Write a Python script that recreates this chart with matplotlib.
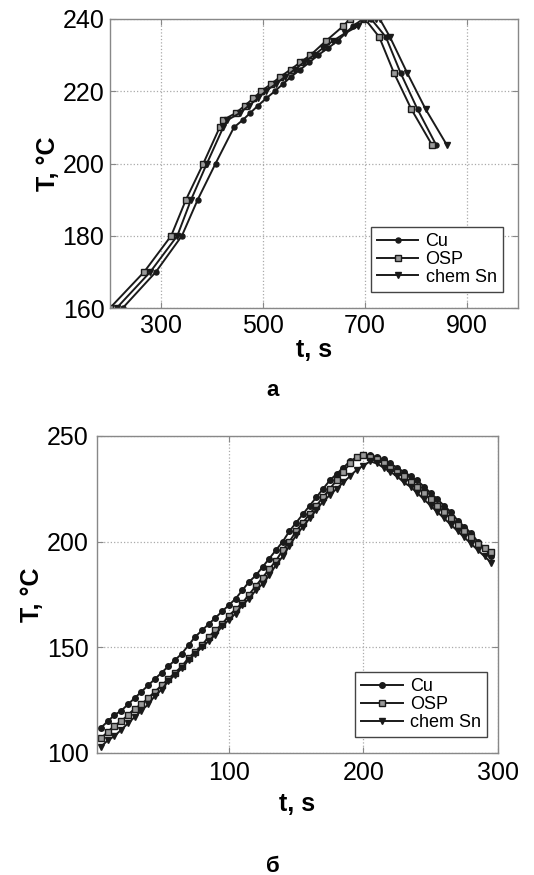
import matplotlib.pyplot as plt

plt.rcParams['font.family'] = ['Liberation Sans', 'DejaVu Sans']

# --- panel a: reflow profile, long cycle ---
t_cu_a = [225, 290, 341, 372, 407, 443, 460, 475, 490, 506, 523, 539, 555, 573, 591, 608, 628, 647, 676, 696, 712, 741, 770, 803, 840]
T_cu_a = [160, 170, 180, 190, 200, 210, 212, 214, 216, 218, 220, 222, 224, 226, 228, 230, 232, 234, 238, 240, 240, 235, 225, 215, 205]

t_osp_a = [200, 267, 320, 349, 383, 415, 421, 447, 464, 481, 496, 516, 534, 554, 573, 593, 624, 657, 670, 700, 728, 757, 791, 832]
T_osp_a = [160, 170, 180, 190, 200, 210, 212, 214, 216, 218, 220, 222, 224, 226, 228, 230, 234, 238, 240, 240, 235, 225, 215, 205]

t_sn_a = [213, 279, 332, 359, 390, 422, 430, 455, 472, 490, 505, 525, 543, 562, 580, 600, 618, 638, 660, 686, 700, 722, 729, 749, 783, 819, 861]
T_sn_a = [160, 170, 180, 190, 200, 210, 212, 214, 216, 218, 220, 222, 224, 226, 228, 230, 232, 234, 236, 238, 240, 240, 240, 235, 225, 215, 205]

# --- panel b: short cycle ---
t_b = [5, 10, 15, 20, 25, 30, 35, 40, 45, 50, 55, 60, 65, 70, 75, 80, 85, 90, 95, 100,
       105, 110, 115, 120, 125, 130, 135, 140, 145, 150, 155, 160, 165, 170, 175, 180, 185, 190, 195, 200,
       205, 210, 215, 220, 225, 230, 235, 240, 245, 250, 255, 260, 265, 270, 275, 280, 285, 290, 295]
T_cu_b = [112, 115, 118, 120, 123, 126, 129, 132, 135, 138, 141, 144, 147, 151, 155, 158, 161, 164, 167, 170,
          173, 177, 181, 184, 188, 192, 196, 200, 205, 209, 213, 217, 221, 225, 229, 232, 235, 238, 240, 241,
          241, 240, 239, 237, 235, 233, 231, 229, 226, 223, 220, 217, 214, 210, 207, 204, 200, 197, 193]
T_osp_b = [107, 110, 113, 115, 118, 121, 123, 126, 129, 132, 135, 138, 141, 145, 148, 151, 155, 158, 161, 165,
           168, 171, 175, 179, 183, 187, 191, 196, 200, 205, 209, 213, 217, 221, 225, 229, 233, 237, 240, 241,
           240, 239, 237, 235, 233, 231, 228, 226, 223, 220, 217, 214, 211, 208, 205, 202, 199, 197, 195]
T_sn_b = [103, 106, 108, 111, 114, 117, 120, 123, 127, 130, 134, 137, 140, 144, 147, 150, 153, 156, 160, 163,
          166, 170, 173, 177, 180, 184, 189, 193, 198, 203, 207, 211, 215, 219, 222, 225, 228, 231, 234, 236,
          238, 237, 235, 233, 231, 228, 226, 223, 220, 217, 214, 211, 208, 205, 202, 199, 196, 193, 190]

labels = ['Cu', 'OSP', 'chem Sn']
line_col = '#1a1a1a'


def style_axes(ax, pad, labelpad):
    for s in ax.spines.values():
        s.set_color('#888888')
        s.set_linewidth(1.0)
    ax.grid(True, linestyle=':', color='#aaaaaa', linewidth=0.9)
    ax.tick_params(direction='in', length=4, color='#888888', labelsize=18,
                   top=True, right=True, pad=pad)
    ax.set_xlabel('t, s', fontsize=18, fontweight='bold', labelpad=labelpad)
    ax.set_ylabel('T, \u00b0C', fontsize=18, fontweight='bold', labelpad=2)


def draw(ax, xs, ys, ms):
    ax.plot(xs[0], ys[0], color=line_col, lw=1.4, marker='o', ms=ms * 0.8,
            mfc=line_col, mec=line_col, label=labels[0])
    ax.plot(xs[1], ys[1], color=line_col, lw=1.4, marker='s', ms=ms,
            mfc='#9a9a9a', mec=line_col, mew=1.0, label=labels[1])
    ax.plot(xs[2], ys[2], color=line_col, lw=1.4, marker='v', ms=ms,
            mfc=line_col, mec=line_col, label=labels[2])


def add_legend(ax, anchor):
    leg = ax.legend(loc='lower right', bbox_to_anchor=anchor, borderaxespad=0,
                    fontsize=13, fancybox=False, edgecolor='#444444', framealpha=1,
                    handlelength=2.3, labelspacing=0.05, borderpad=0.35, handletextpad=0.4)
    leg.get_frame().set_linewidth(1.0)


fig = plt.figure(figsize=(5.34, 8.75), dpi=100)

ax1 = fig.add_axes([110 / 534, 1 - 308 / 875, 408 / 534, 289 / 875])
draw(ax1, [t_cu_a, t_osp_a, t_sn_a], [T_cu_a, T_osp_a, T_sn_a], 4.5)
ax1.set_xlim(200, 1000)
ax1.set_ylim(160, 240)
ax1.set_xticks([300, 500, 700, 900])
ax1.set_yticks([160, 180, 200, 220, 240])
style_axes(ax1, 4, 0)
add_legend(ax1, (0.963, 0.055))
fig.text(273 / 534, 1 - 391 / 875, 'а', ha='center', va='center', fontsize=16, fontweight='bold')

ax2 = fig.add_axes([97 / 534, 1 - 753 / 875, 401 / 534, 317 / 875])
draw(ax2, [t_b, t_b, t_b], [T_cu_b, T_osp_b, T_sn_b], 5)
ax2.set_xlim(2, 300)
ax2.set_ylim(100, 250)
ax2.set_xticks([100, 200, 300])
ax2.set_yticks([100, 150, 200, 250])
style_axes(ax2, 6, 5)
add_legend(ax2, (0.973, 0.05))
fig.text(273 / 534, 1 - 866 / 875, 'б', ha='center', va='center', fontsize=16, fontweight='bold')

fig.savefig('out.png', dpi=100)
